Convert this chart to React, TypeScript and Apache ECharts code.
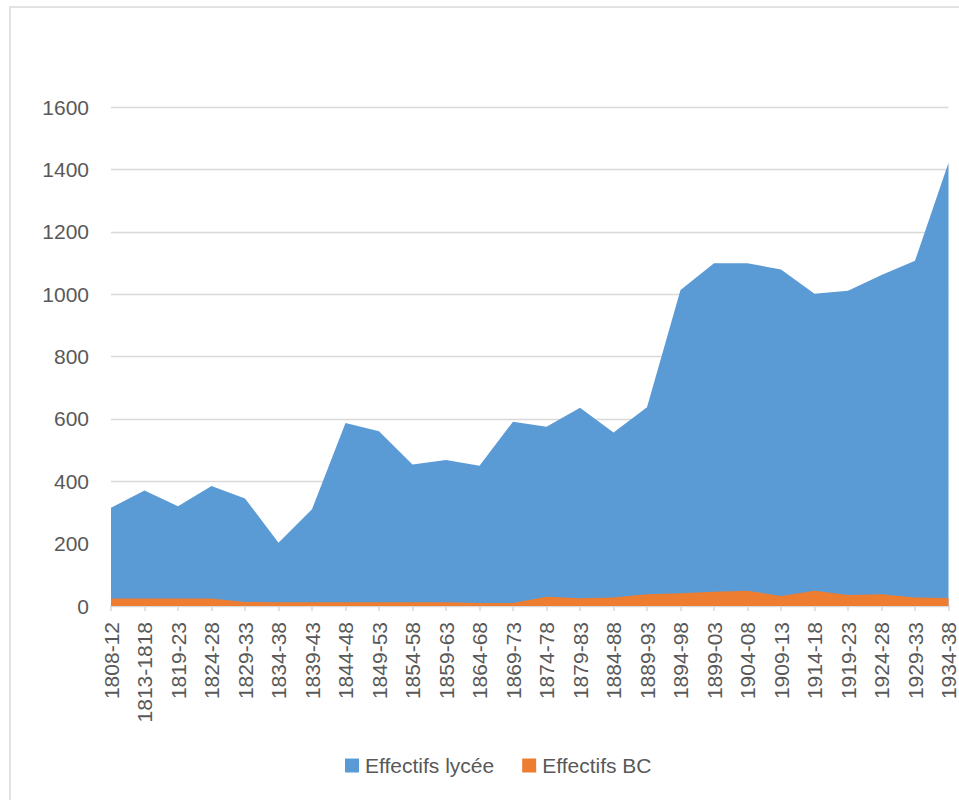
import React, { useEffect, useRef } from "react";
import * as echarts from "echarts";

const categories = [
  "1808-12", "1813-1818", "1819-23", "1824-28", "1829-33", "1834-38", "1839-43",
  "1844-48", "1849-53", "1854-58", "1859-63", "1864-68", "1869-73", "1874-78",
  "1879-83", "1884-88", "1889-93", "1894-98", "1899-03", "1904-08", "1909-13",
  "1914-18", "1919-23", "1924-28", "1929-33", "1934-38",
];

const effectifsLycee = [
  315, 370, 320, 385, 345, 203, 310, 587, 560, 454, 468, 450, 591, 575, 636, 556,
  637, 1013, 1099, 1099, 1079, 1001, 1011, 1061, 1107, 1421,
];

const effectifsBC = [
  24, 24, 24, 24, 13, 12, 12, 12, 12, 12, 12, 10, 10, 30, 25, 27, 38, 41, 46, 49,
  32, 49, 35, 38, 27, 26,
];

const seriesNames = ["Effectifs lycée", "Effectifs BC"];
const yTicks = { min: 0, max: 1600, interval: 200 };

export default function App() {
  const ref = useRef<HTMLDivElement>(null);

  useEffect(() => {
    if (!ref.current) return;
    const chart = echarts.init(ref.current, undefined, { renderer: "svg" });
    const font = "'Liberation Sans', Arial, sans-serif";
    chart.setOption({
      animation: false,
      backgroundColor: "#ffffff",
      textStyle: { fontFamily: font },
      graphic: [
        {
          type: "rect",
          shape: { x: 10, y: 7, width: 980, height: 820 },
          style: { fill: "none", stroke: "#d9d9d9", lineWidth: 1.5 },
          silent: true,
          z: -10,
        },
      ],
      grid: { left: 111, right: 5, top: 107, bottom: 194, containLabel: false },
      legend: {
        data: seriesNames,
        bottom: 19,
        left: 340,
        icon: "rect",
        itemWidth: 14,
        itemHeight: 14,
        itemGap: 28,
        textStyle: { color: "#595959", fontSize: 21, fontFamily: font, padding: [0, 0, 0, 1] },
      },
      xAxis: {
        type: "category",
        data: categories,
        boundaryGap: false,
        axisLine: { lineStyle: { color: "#d9d9d9", width: 1.5 } },
        axisTick: { show: true, length: 5, lineStyle: { color: "#d9d9d9", width: 1.5 } },
        axisLabel: {
          rotate: 90,
          interval: 0,
          margin: 16,
          color: "#595959",
          fontSize: 21,
          fontFamily: font,
        },
        splitLine: { show: false },
      },
      yAxis: {
        type: "value",
        min: yTicks.min,
        max: yTicks.max,
        interval: yTicks.interval,
        axisLine: { show: false },
        axisTick: { show: false },
        axisLabel: {
          color: "#595959",
          fontSize: 21,
          margin: 22,
          fontFamily: font,
          formatter: (v: number) => String(v),
        },
        splitLine: { lineStyle: { color: "#d9d9d9", width: 1.3 } },
      },
      series: [
        {
          name: seriesNames[0],
          type: "line",
          data: effectifsLycee,
          showSymbol: false,
          symbol: "none",
          lineStyle: { width: 0 },
          itemStyle: { color: "#5B9BD5" },
          areaStyle: { color: "#5B9BD5", opacity: 1 },
        },
        {
          name: seriesNames[1],
          type: "line",
          data: effectifsBC,
          showSymbol: false,
          symbol: "none",
          lineStyle: { width: 0 },
          itemStyle: { color: "#ED7D31" },
          areaStyle: { color: "#ED7D31", opacity: 1 },
        },
      ],
    });
    return () => chart.dispose();
  }, []);

  return (
    <div
      ref={ref}
      style={{ position: "fixed", left: 0, top: 0, width: 959, height: 800 }}
    />
  );
}
